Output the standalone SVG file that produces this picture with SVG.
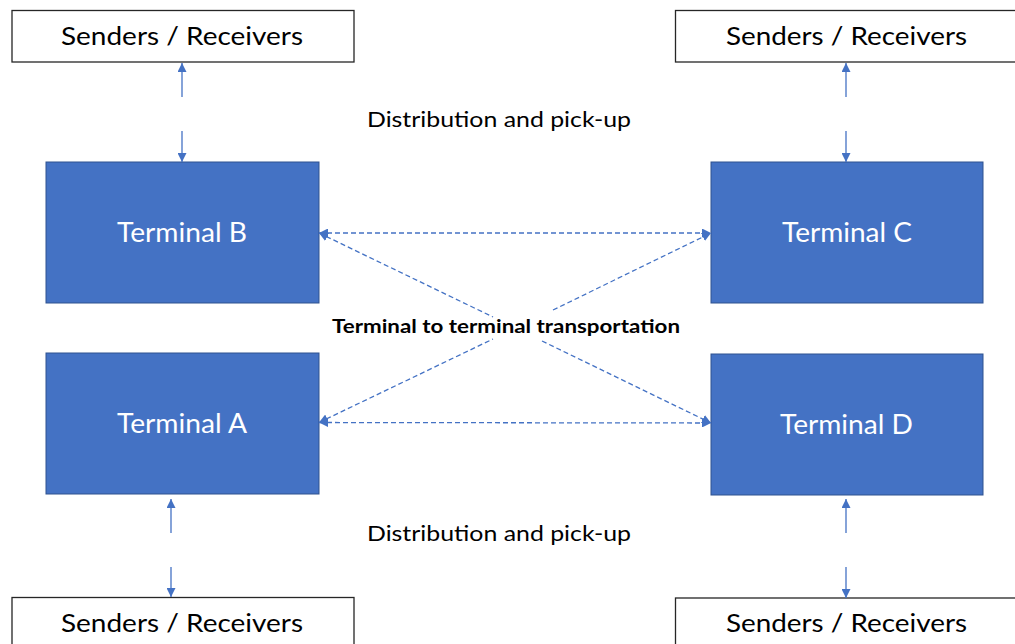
<svg xmlns="http://www.w3.org/2000/svg" width="1015" height="644" viewBox="0 0 1015 644">
  <defs>
    <marker id="head" viewBox="0 0 10 10" refX="10" refY="5" markerWidth="9" markerHeight="9" markerUnits="userSpaceOnUse" orient="auto-start-reverse">
      <path d="M0,0 L10,5 L0,10 Z" fill="#4472C4"/>
    </marker>
    <style>
      .party { fill: #ffffff; stroke: #262626; stroke-width: 1.3; }
      .terminal { fill: #4472C4; stroke: #2F528F; stroke-width: 1; }
      .party-text { font-family: Lato, "Open Sans", "Liberation Sans", sans-serif; font-size: 25px; fill: #000000; text-anchor: middle; }
      .terminal-text { font-family: Lato, "Open Sans", "Liberation Sans", sans-serif; font-size: 26px; fill: #ffffff; text-anchor: middle; }
      .label { font-family: Lato, "Open Sans", "Liberation Sans", sans-serif; font-size: 21px; fill: #000000; text-anchor: middle; }
      .label-bold { font-family: Lato, "Open Sans", "Liberation Sans", sans-serif; font-size: 18px; font-weight: bold; fill: #000000; text-anchor: middle; }
      .solid { stroke: #4472C4; stroke-width: 1.3; fill: none; }
      .dashed { stroke: #4472C4; stroke-width: 1.3; fill: none; stroke-dasharray: 5 3; }
    </style>
  </defs>

  <rect width="1015" height="644" fill="#ffffff"/>

  <!-- senders / receivers -->
  <g id="sr-top-left">
    <rect class="party" x="12" y="10.5" width="342" height="51.5"/>
    <text class="party-text" x="182" y="45" textLength="242" lengthAdjust="spacingAndGlyphs">Senders / Receivers</text>
  </g>
  <g id="sr-top-right">
    <rect class="party" x="675.5" y="10.5" width="345" height="51.5"/>
    <text class="party-text" x="846.5" y="45" textLength="241" lengthAdjust="spacingAndGlyphs">Senders / Receivers</text>
  </g>
  <g id="sr-bottom-left">
    <rect class="party" x="12" y="597.5" width="342" height="55"/>
    <text class="party-text" x="182" y="632" textLength="242" lengthAdjust="spacingAndGlyphs">Senders / Receivers</text>
  </g>
  <g id="sr-bottom-right">
    <rect class="party" x="675.5" y="598" width="345" height="55"/>
    <text class="party-text" x="846.5" y="632" textLength="241" lengthAdjust="spacingAndGlyphs">Senders / Receivers</text>
  </g>

  <!-- terminals -->
  <g id="terminal-b">
    <rect class="terminal" x="46" y="162" width="273" height="141"/>
    <text class="terminal-text" x="182" y="242" textLength="130" lengthAdjust="spacingAndGlyphs">Terminal B</text>
  </g>
  <g id="terminal-c">
    <rect class="terminal" x="711" y="162" width="272" height="141"/>
    <text class="terminal-text" x="847" y="242" textLength="130" lengthAdjust="spacingAndGlyphs">Terminal C</text>
  </g>
  <g id="terminal-a">
    <rect class="terminal" x="46" y="353" width="273" height="141"/>
    <text class="terminal-text" x="182" y="433" textLength="130" lengthAdjust="spacingAndGlyphs">Terminal A</text>
  </g>
  <g id="terminal-d">
    <rect class="terminal" x="711" y="354" width="272" height="141"/>
    <text class="terminal-text" x="846.5" y="434" textLength="133" lengthAdjust="spacingAndGlyphs">Terminal D</text>
  </g>

  <!-- labels -->
  <g id="labels">
    <text class="label" x="499" y="127" textLength="264" lengthAdjust="spacingAndGlyphs">Distribution and pick-up</text>
    <text class="label" x="499" y="541" textLength="264" lengthAdjust="spacingAndGlyphs">Distribution and pick-up</text>
    <text class="label-bold" x="506" y="333" textLength="348" lengthAdjust="spacingAndGlyphs">Terminal to terminal transportation</text>
  </g>

  <!-- connectors -->
  <g id="connectors">
    <!-- distribution and pick-up links -->
    <line class="solid" x1="182" y1="97" x2="182" y2="63" marker-end="url(#head)"/>
    <line class="solid" x1="182" y1="131" x2="182" y2="162" marker-end="url(#head)"/>
    <line class="solid" x1="846" y1="97" x2="846" y2="63" marker-end="url(#head)"/>
    <line class="solid" x1="846" y1="131" x2="846" y2="162" marker-end="url(#head)"/>
    <line class="solid" x1="171" y1="533" x2="171" y2="499" marker-end="url(#head)"/>
    <line class="solid" x1="171" y1="567" x2="171" y2="597" marker-end="url(#head)"/>
    <line class="solid" x1="846" y1="533" x2="846" y2="499" marker-end="url(#head)"/>
    <line class="solid" x1="846" y1="567" x2="846" y2="598" marker-end="url(#head)"/>

    <!-- terminal to terminal links -->
    <path class="dashed" d="M319,233 L711,233" marker-start="url(#head)" marker-end="url(#head)"/>
    <path class="dashed" d="M319,422.5 L711,423" marker-start="url(#head)" marker-end="url(#head)"/>
    <path class="dashed" d="M319,233 L493,317 M542,341 L711,423" marker-start="url(#head)" marker-end="url(#head)"/>
    <path class="dashed" d="M319,422.5 L493,339 M553,310 L711,233" marker-start="url(#head)" marker-end="url(#head)"/>
  </g>
</svg>
